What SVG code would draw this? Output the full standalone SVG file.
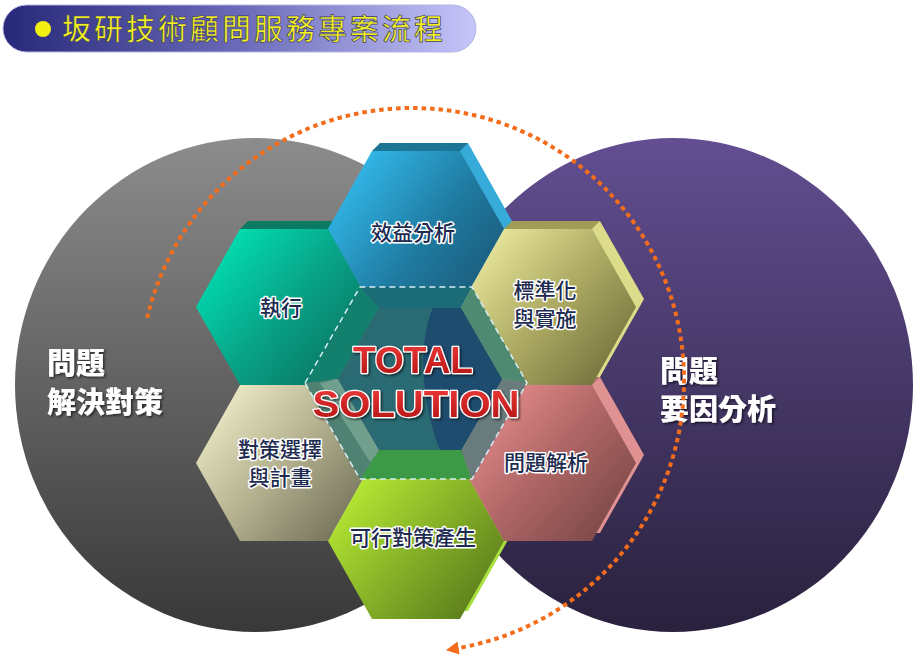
<svg xmlns="http://www.w3.org/2000/svg" width="914" height="662" viewBox="0 0 914 662">
<defs>
<linearGradient id="gTitle" x1="0" y1="0" x2="1" y2="0"><stop offset="0" stop-color="#28287a"/><stop offset="0.5" stop-color="#6a6ab8"/><stop offset="1" stop-color="#c6c6fa"/></linearGradient>
<linearGradient id="gGray" x1="0" y1="0" x2="0" y2="1"><stop offset="0" stop-color="#8c8c8c"/><stop offset="1" stop-color="#383838"/></linearGradient>
<linearGradient id="gPurple" x1="0" y1="0" x2="0" y2="1"><stop offset="0" stop-color="#624e91"/><stop offset="1" stop-color="#29213d"/></linearGradient>
<linearGradient id="gA" x1="0" y1="0.2" x2="1" y2="0.9"><stop offset="0" stop-color="#34bdf0"/><stop offset="0.55" stop-color="#1f7aa0"/><stop offset="1" stop-color="#1a5574"/></linearGradient>
<linearGradient id="gB" x1="0" y1="0.1" x2="1" y2="0.9"><stop offset="0" stop-color="#00e8b8"/><stop offset="0.5" stop-color="#08a488"/><stop offset="1" stop-color="#0a6a5a"/></linearGradient>
<linearGradient id="gC" x1="0" y1="0.1" x2="1" y2="0.9"><stop offset="0" stop-color="#f4f2a6"/><stop offset="0.5" stop-color="#aeac64"/><stop offset="1" stop-color="#6c6a38"/></linearGradient>
<linearGradient id="gD" x1="0" y1="0.1" x2="1" y2="0.9"><stop offset="0" stop-color="#f6f3ce"/><stop offset="0.5" stop-color="#b2b08e"/><stop offset="1" stop-color="#6a6852"/></linearGradient>
<linearGradient id="gE" x1="0" y1="0.1" x2="1" y2="0.9"><stop offset="0" stop-color="#f09494"/><stop offset="0.5" stop-color="#b06666"/><stop offset="1" stop-color="#744444"/></linearGradient>
<linearGradient id="gF" x1="0" y1="0.1" x2="1" y2="0.9"><stop offset="0" stop-color="#c2f536"/><stop offset="0.5" stop-color="#88b428"/><stop offset="1" stop-color="#55741a"/></linearGradient>
<linearGradient id="gRed" x1="0" y1="0" x2="0" y2="1"><stop offset="0" stop-color="#f03a3a"/><stop offset="1" stop-color="#b01212"/></linearGradient>
<filter id="shadow" x="-10%" y="-10%" width="130%" height="140%"><feDropShadow dx="1.5" dy="1.5" stdDeviation="1" flood-color="#000" flood-opacity="0.6"/></filter>
<marker id="arrow" viewBox="0 0 10 10" refX="1" refY="5" markerWidth="13" markerHeight="13" markerUnits="userSpaceOnUse" orient="auto"><path d="M0,0 L10,5 L0,10 Z" fill="#f36d1c"/></marker>
<style>
.hexlabel{font-family:"Noto Sans CJK TC","Noto Sans CJK SC",sans-serif;font-size:21px;font-weight:500;fill:#1d2b50;stroke:#ffffff;stroke-width:3px;paint-order:stroke;stroke-linejoin:round;text-anchor:middle}
.biglabel{font-family:"Noto Sans CJK TC","Noto Sans CJK SC",sans-serif;font-size:29px;font-weight:900;fill:#ffffff}
.total{font-family:"Liberation Sans",Arial,sans-serif;font-weight:bold;font-size:36px;fill:url(#gRed);stroke:#ffffff;stroke-width:2.5px;paint-order:stroke;stroke-linejoin:round;text-anchor:middle}
</style>
</defs>

<rect width="914" height="662" fill="#ffffff"/>

<g id="title">
<rect x="3" y="5" width="473" height="47" rx="23.5" fill="url(#gTitle)" stroke="#b4b4e6" stroke-width="1"/>
<circle cx="43" cy="29" r="8" fill="#f2f012"/>
<text x="62" y="40" font-family="'Noto Sans CJK TC','Noto Sans CJK SC',sans-serif" font-size="29" font-weight="500" letter-spacing="3" fill="#f2f020" stroke="#3a3a70" stroke-width="0.7">坂研技術顧問服務專案流程</text>
</g>

<g id="circle-solve">
<ellipse cx="255" cy="385" rx="240" ry="247" fill="url(#gGray)"/>
<text class="biglabel" filter="url(#shadow)"><tspan x="47" y="374">問題</tspan><tspan x="47" y="413">解決對策</tspan></text>
</g>

<g id="circle-analysis">
<ellipse cx="673" cy="385" rx="240" ry="247" fill="url(#gPurple)"/>
<text class="biglabel" filter="url(#shadow)"><tspan x="660" y="382">問題</tspan><tspan x="660" y="420">要因分析</tspan></text>
</g>

<g id="hex-plan">
<polygon points="204,455 248,377 336,377 380,455 336,533 248,533" fill="#c8c6a0"/>
<polygon points="196,463 240,385 328,385 372,463 328,541 240,541" fill="url(#gD)"/>
<text class="hexlabel"><tspan x="280" y="457">對策選擇</tspan><tspan x="280" y="485">與計畫</tspan></text>
</g>

<g id="hex-exec">
<polygon points="204,299 248,221 336,221 380,299 336,377 248,377" fill="#0f9a80"/>
<polygon points="248,221 336,221 328,229 240,229" fill="#0a7a62"/>
<polygon points="196,307 240,229 328,229 372,307 328,385 240,385" fill="url(#gB)"/>
<text class="hexlabel" x="281" y="315">執行</text>
</g>

<g id="hex-benefit">
<polygon points="336,221 380,143 468,143 512,221 468,299 380,299" fill="#36aad8"/>
<polygon points="380,143 468,143 460,151 372,151" fill="#1c7594"/>
<polygon points="328,229 372,151 460,151 504,229 460,307 372,307" fill="url(#gA)"/>
<text class="hexlabel" x="413" y="240">效益分析</text>
</g>

<g id="hex-feasible">
<polygon points="336,533 380,455 468,455 512,533 468,611 380,611" fill="#a8e040"/>
<polygon points="328,541 372,463 460,463 504,541 460,619 372,619" fill="url(#gF)"/>
<text class="hexlabel" x="413" y="545">可行對策產生</text>
</g>

<g id="hex-problem">
<polygon points="468,455 512,377 600,377 644,455 600,533 512,533" fill="#e09292"/>
<polygon points="512,377 600,377 592,385 504,385" fill="#b07070"/>
<polygon points="460,463 504,385 592,385 636,463 592,541 504,541" fill="url(#gE)"/>
<text class="hexlabel" x="546" y="470">問題解析</text>
</g>

<g id="hex-standard">
<polygon points="468,299 512,221 600,221 644,299 600,377 512,377" fill="#dcdc8a"/>
<polygon points="512,221 600,221 592,229 504,229" fill="#a09e56"/>
<polygon points="460,307 504,229 592,229 636,307 592,385 504,385" fill="url(#gC)"/>
<text class="hexlabel"><tspan x="545" y="298">標準化</tspan><tspan x="545" y="326">與實施</tspan></text>
</g>

<g id="center-total">
<polygon points="360,287 472,287 461,308 379,308" fill="#1b6c76"/>
<polygon points="305,383 360,287 379,308 338,379" fill="#12806c"/>
<polygon points="472,287 527,383 502,379 461,308" fill="#4e8a72"/>
<polygon points="527,383 472,479 461,450 502,379" fill="#6a7b7e"/>
<polygon points="472,479 360,479 379,450 461,450" fill="#3c9a46"/>
<polygon points="360,479 305,383 338,379 379,450" fill="#4f8272"/>
<polygon points="320,383 338,379 379,450 370,462" fill="#7fab9a" opacity="0.7"/>
<polygon points="338,379 379,308 461,308 502,379 461,450 379,450" fill="#2a6a72"/>
<path d="M433,308 C418,340 420,400 440,450 L461,450 L502,379 L461,308 Z" fill="#1e4c6e"/>
<polygon points="305,383 360,287 472,287 527,383 472,479 360,479" fill="none" stroke="#d6eef6" stroke-width="1.5" stroke-dasharray="6 4"/>
<g filter="url(#shadow)">
<text class="total" x="413" y="373" textLength="120" lengthAdjust="spacingAndGlyphs">TOTAL</text>
<text class="total" x="416" y="417" textLength="207" lengthAdjust="spacingAndGlyphs">SOLUTION</text>
</g>
</g>

<g id="connectors">
<path d="M147.2,317.9 A272,272 0 1 1 457.4,648.2" fill="none" stroke="#f36d1c" stroke-width="4" stroke-dasharray="4.5 4" marker-end="url(#arrow)"/>
</g>
</svg>
